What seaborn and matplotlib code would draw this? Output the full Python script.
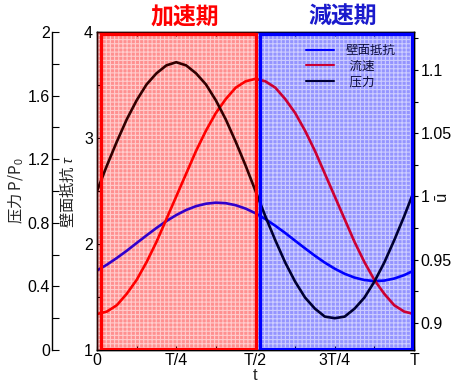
import matplotlib
matplotlib.use("Agg")
import matplotlib.pyplot as plt
import seaborn as sns
import pandas as pd
from matplotlib.patches import Rectangle
from matplotlib.lines import Line2D
from matplotlib.ticker import MultipleLocator

# ---- data (time in units of the period T) ----
t_frac = [0.0, 0.03125, 0.0625, 0.09375, 0.125, 0.15625, 0.1875, 0.21875, 0.25,
          0.28125, 0.3125, 0.34375, 0.375, 0.40625, 0.4375, 0.46875, 0.5,
          0.53125, 0.5625, 0.59375, 0.625, 0.65625, 0.6875, 0.71875, 0.75,
          0.78125, 0.8125, 0.84375, 0.875, 0.90625, 0.9375, 0.96875, 1.0]
wall_tau = [1.75, 1.805, 1.868, 1.936, 2.009, 2.081, 2.151, 2.216, 2.273,
            2.321, 2.357, 2.380, 2.390, 2.385, 2.366, 2.334, 2.290,
            2.235, 2.172, 2.104, 2.031, 1.959, 1.889, 1.824, 1.767,
            1.719, 1.683, 1.660, 1.650, 1.655, 1.674, 1.706, 1.750]
velocity_u = [0.907, 0.909, 0.914, 0.923, 0.934, 0.948, 0.964, 0.982, 1.000,
              1.018, 1.036, 1.052, 1.066, 1.077, 1.086, 1.091, 1.093,
              1.091, 1.086, 1.077, 1.066, 1.052, 1.036, 1.018, 1.000,
              0.982, 0.964, 0.948, 0.934, 0.923, 0.914, 0.909, 0.907]
pressure_p = [1.00, 1.16, 1.31, 1.45, 1.57, 1.67, 1.74, 1.79, 1.81,
              1.79, 1.74, 1.67, 1.57, 1.45, 1.31, 1.16, 1.00,
              0.84, 0.69, 0.55, 0.43, 0.33, 0.26, 0.21, 0.20,
              0.21, 0.26, 0.33, 0.43, 0.55, 0.69, 0.84, 1.00]
x_tick_pos = [0, 0.25, 0.5, 0.75, 1.0]
x_tick_labels = ["0", "T/4", "T/2", "3T/4", "T"]
u_tick_pos = [0.9, 0.95, 1.0, 1.05, 1.1]
u_tick_labels = ["0.9", "0.95", "1", "1.05", "1.1"]
p_tick_pos = [0, 0.4, 0.8, 1.2, 1.6, 2.0]
p_tick_labels = ["0", "0.4", "0.8", "1.2", "1.6", "2"]
legend_labels = ["壁面抵抗", " 流速", " 压力"]
phase_titles = ["加速期", "減速期"]

df = pd.DataFrame({"t": t_frac, "tau": wall_tau, "u": velocity_u, "p": pressure_p})

sns.set_theme(style="ticks")
plt.rcParams["font.family"] = ["Liberation Sans", "Noto Sans CJK JP", "DejaVu Sans"]
plt.rcParams["mathtext.fontset"] = "custom"
plt.rcParams["mathtext.rm"] = "Liberation Sans"
plt.rcParams["mathtext.it"] = "Liberation Sans:italic"
plt.rcParams["hatch.linewidth"] = 0.8
plt.rcParams["axes.edgecolor"] = "black"
plt.rcParams["axes.linewidth"] = 1.0
plt.rcParams["xtick.color"] = "black"
plt.rcParams["ytick.color"] = "black"
plt.rcParams["text.color"] = "#111111"

W, H = 451, 383
fig = plt.figure(figsize=(W / 100, H / 100), dpi=100)
ax = fig.add_axes([97 / W, 33 / H, 317 / W, 318 / H])

# hatched backgrounds (under the lines)
ax.add_patch(Rectangle((0, 0), 0.5, 1, transform=ax.transAxes, facecolor="#ffb4b4",
                       edgecolor="white", hatch="++++", lw=0, zorder=0.2))
ax.add_patch(Rectangle((0.5, 0), 0.5, 1, transform=ax.transAxes, facecolor="#babaff",
                       edgecolor="white", hatch="++++", lw=0, zorder=0.2))

lw = 1.9
sns.lineplot(data=df, x="t", y="tau", ax=ax, color="#0000ff", lw=lw,
             estimator=None, sort=False, legend=False)
ax.set_xlim(0, 1)
ax.set_ylim(1, 4)
ax.yaxis.set_major_locator(MultipleLocator(1))
ax.yaxis.set_minor_locator(MultipleLocator(0.5))
ax.set_xticks(x_tick_pos)
ax.set_xticklabels(x_tick_labels)
ax.xaxis.set_minor_locator(MultipleLocator(0.125))
ax.tick_params(axis="x", which="both", direction="in", top=True, bottom=True,
               length=3, width=0.8, labelsize=11.5, pad=2)
ax.tick_params(axis="y", which="both", direction="in", left=True, right=False,
               length=3.5, width=0.8, labelsize=11.5, pad=3)
ax.set_xlabel("t", fontsize=12, labelpad=0)
ax.set_ylabel("壁面抵抗 $\\tau$", fontsize=11, labelpad=5,
              family=["Noto Sans CJK JP"])

# right axis: mean velocity
ax_u = ax.twinx()
sns.lineplot(data=df, x="t", y="u", ax=ax_u, color="#ff0000", lw=lw,
             estimator=None, sort=False, legend=False)
ax_u.set_ylim(0.8786, 1.130)
ax_u.set_yticks(u_tick_pos)
ax_u.set_yticklabels(u_tick_labels)
ax_u.yaxis.set_minor_locator(MultipleLocator(0.025))
ax_u.tick_params(axis="y", which="both", direction="out", right=True, left=False,
                 length=3, width=0.8, labelsize=11.5, pad=1.5)
ax_u.set_ylabel("")
ax_u.set_xlabel("")
ax_u.text(1.085, 0.484, "ū", transform=ax_u.transAxes, rotation=90,
          ha="center", va="center", fontsize=12)

# far-left axis: pressure
ax_p = ax.twinx()
sns.lineplot(data=df, x="t", y="p", ax=ax_p, color="#000000", lw=lw,
             estimator=None, sort=False, legend=False)
ax_p.set_ylim(0, 2)
ax_p.spines["left"].set_visible(True)
ax_p.spines["left"].set_position(("outward", 45 * 0.72))
for s in ["right", "top", "bottom"]:
    ax_p.spines[s].set_visible(False)
ax_p.yaxis.set_label_position("left")
ax_p.yaxis.set_minor_locator(MultipleLocator(0.2))
ax_p.set_yticks(p_tick_pos)
ax_p.set_yticklabels(p_tick_labels)
ax_p.tick_params(axis="y", which="both", direction="in", left=True, right=False,
                 labelleft=True, labelright=False, length=5, width=0.8,
                 labelsize=11.5, pad=1.5)
ax_p.set_ylabel("压力 P/P$_0$", fontsize=11, labelpad=2,
                family=["Noto Sans CJK JP"])
ax_p.set_xlabel("")

handles = [Line2D([], [], color="#0000ff", lw=1.5),
           Line2D([], [], color="#ff0000", lw=1.5),
           Line2D([], [], color="#000000", lw=1.5)]
ax_p.legend(handles, legend_labels, loc="upper left",
            bbox_to_anchor=((306 - 97) / 317, (350 - 45) / 318),
            frameon=False, fontsize=9, handlelength=2.2, handletextpad=1.0,
            labelspacing=0.3, borderpad=0, borderaxespad=0)

# overlay tint + borders (above the lines)
ax_o = fig.add_axes(ax.get_position())
ax_o.set_axis_off()
ax_o.set_xlim(0, 1)
ax_o.set_ylim(0, 1)
ax_o.add_patch(Rectangle((0, 0), 0.5, 1, facecolor="#ff0000", alpha=0.2, lw=0))
ax_o.add_patch(Rectangle((0.5, 0), 0.5, 1, facecolor="#0000ff", alpha=0.2, lw=0))
ax_o.add_patch(Rectangle((0.014, 0.003), 0.486, 0.992, fill=False,
                         edgecolor="#ff0000", lw=2.3))
ax_o.add_patch(Rectangle((0.514, 0.003), 0.48, 0.992, fill=False,
                         edgecolor="#0000ff", lw=2.3))

ax.text(0.278, 1.045, phase_titles[0], transform=ax.transAxes, ha="center",
        va="center", fontsize=16.5, fontweight="bold", color="#ff0000",
        family=["Noto Sans CJK JP"])
ax.text(0.776, 1.045, phase_titles[1], transform=ax.transAxes, ha="center",
        va="center", fontsize=16.5, fontweight="bold", color="#1a1acc",
        family=["Noto Sans CJK JP"])

fig.savefig("out.png", dpi=100)
